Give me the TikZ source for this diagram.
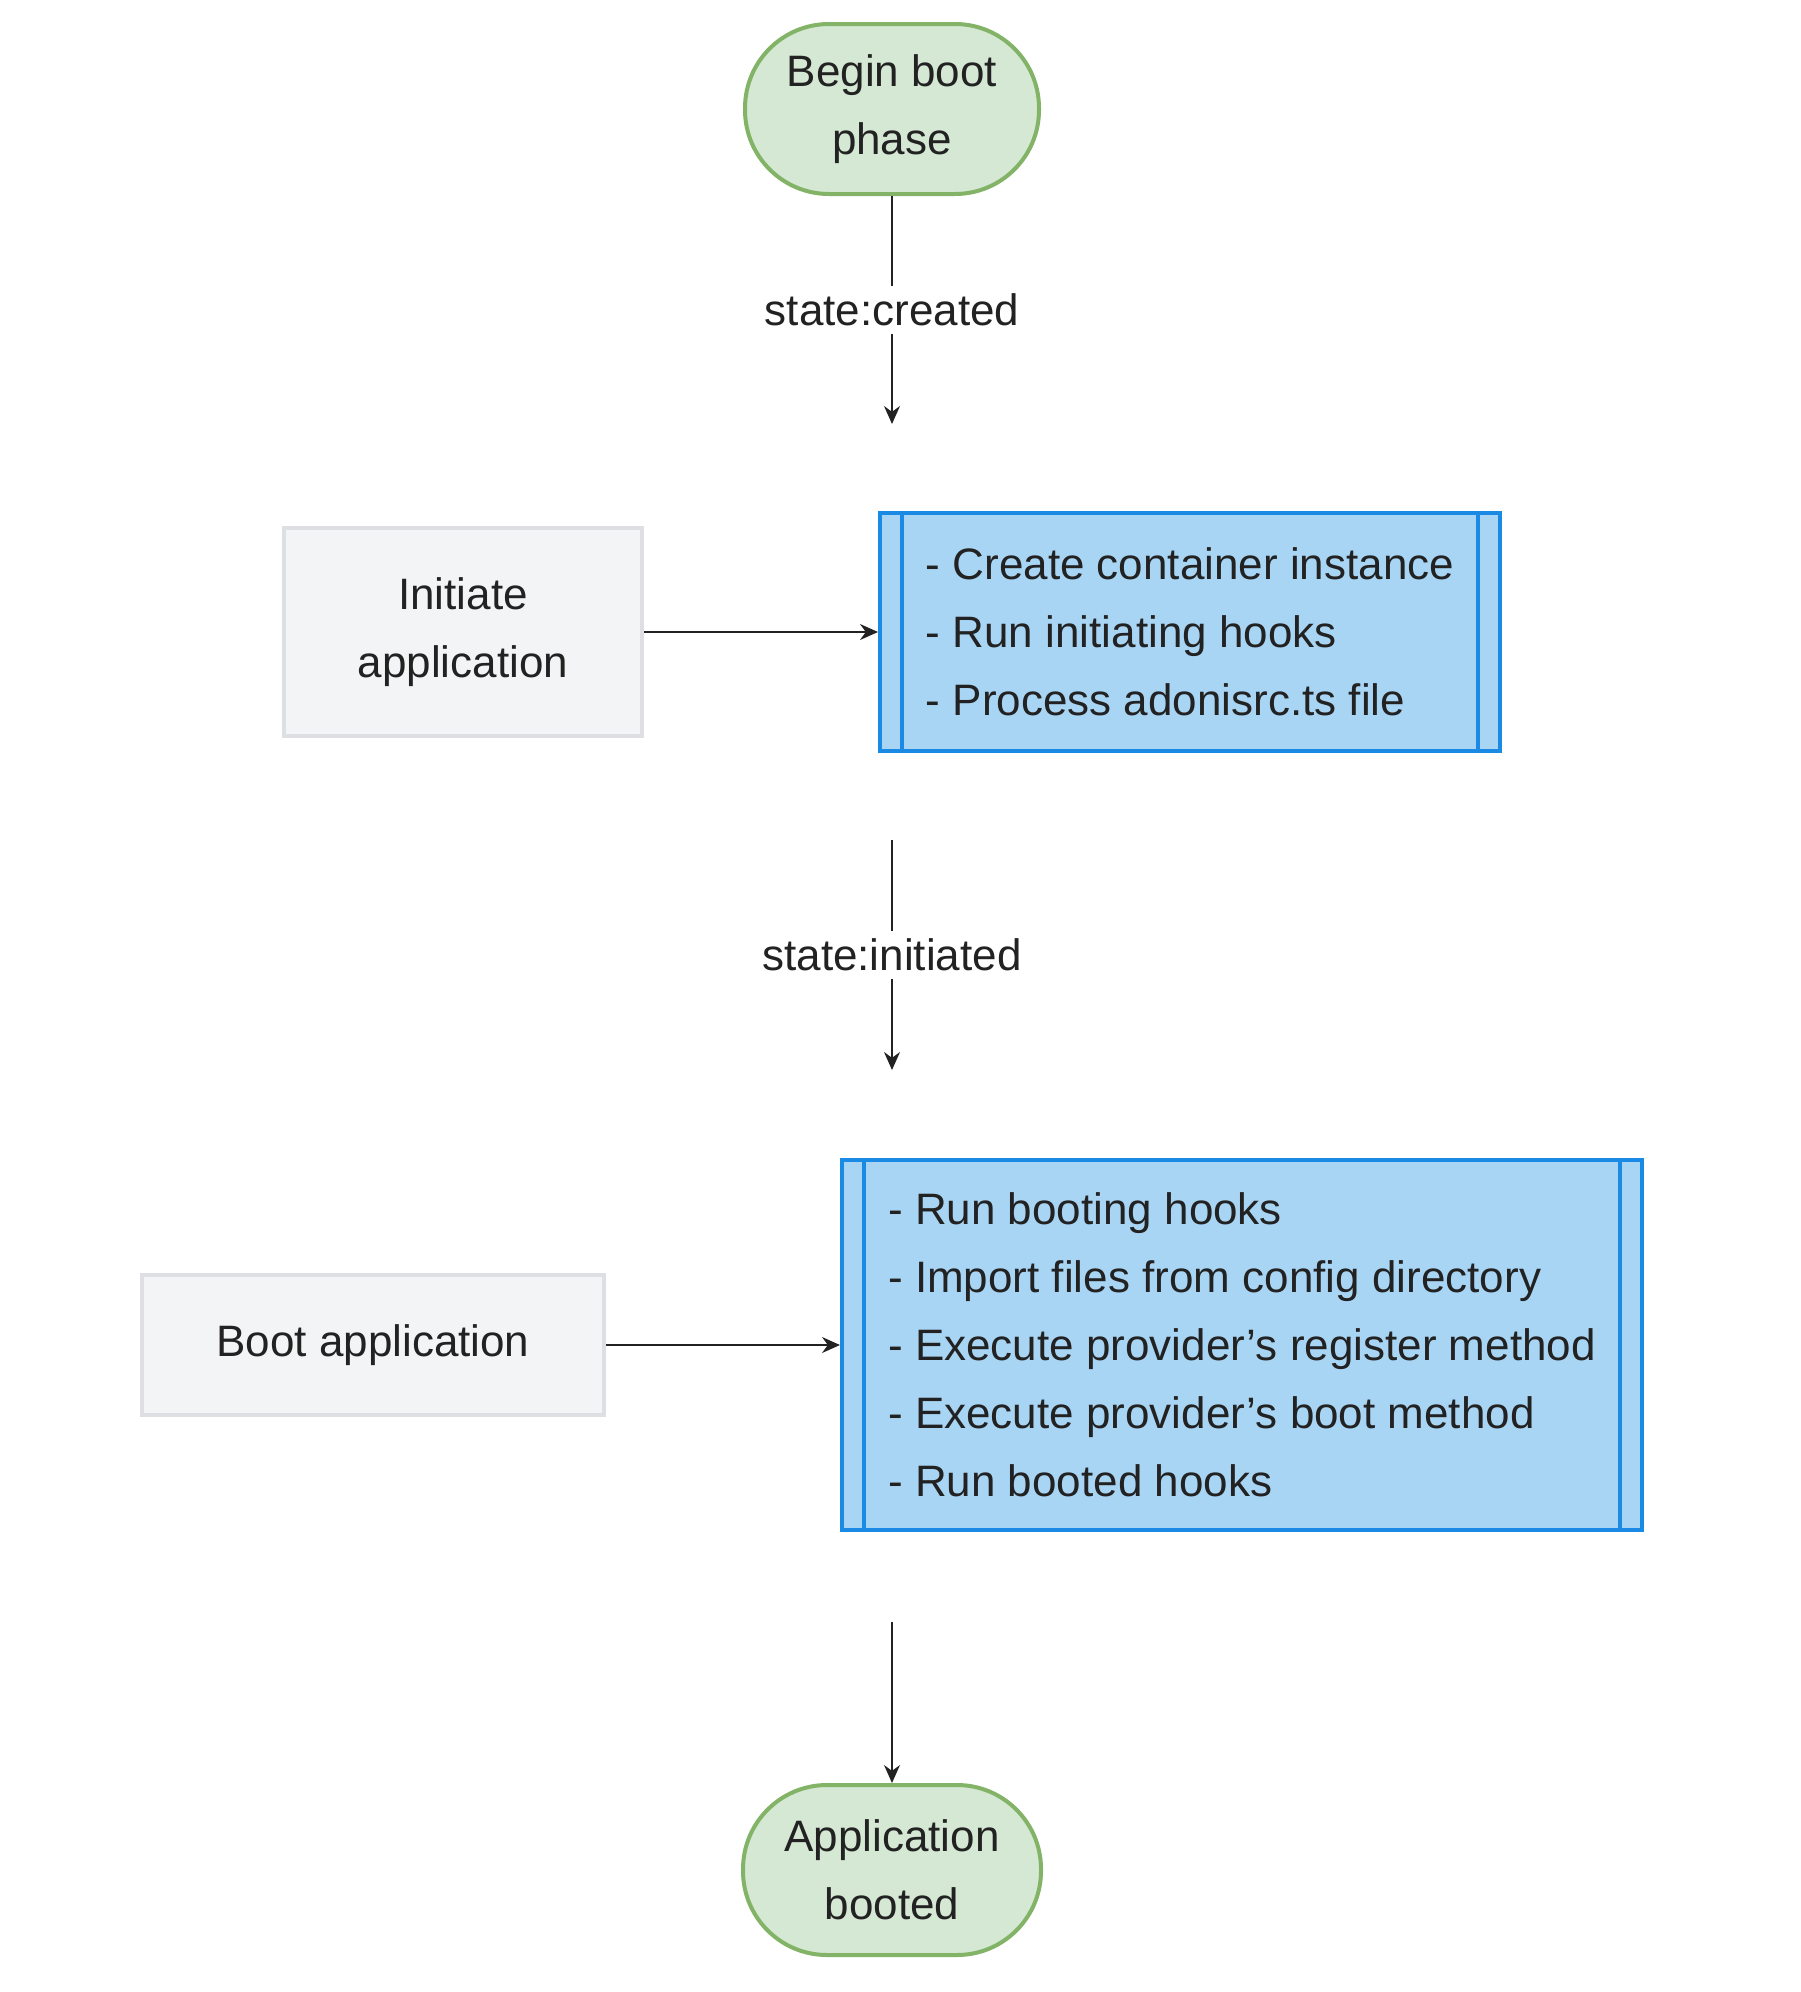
\documentclass[tikz,border=0pt]{standalone}
\usepackage{fontspec}
\setmainfont{Liberation Sans}
\usetikzlibrary{arrows.meta}
\definecolor{gfill}{HTML}{D5E8D4}
\definecolor{gline}{HTML}{82B366}
\definecolor{pfill}{HTML}{F3F4F6}
\definecolor{pline}{HTML}{DDDFE3}
\definecolor{bfill}{HTML}{A9D5F5}
\definecolor{bline}{HTML}{1A8AE5}
\definecolor{ink}{HTML}{222222}
\begin{document}
\begin{tikzpicture}[x=0.5pt,y=-0.5pt,
  every node/.style={font=\fontsize{22}{34}\selectfont, text=ink},
  term/.style={draw=gline, fill=gfill, line width=2pt, rounded corners=42pt, minimum width=147pt, minimum height=85pt, align=center},
  plain/.style={draw=pline, fill=pfill, line width=2pt, align=center},
  sub/.style={draw=bline, fill=bfill, line width=2pt, align=left, inner xsep=21pt},
  conn/.style={draw=ink, line width=0.8pt, -{Stealth[length=9pt,width=8pt]}},
  lbl/.style={fill=white, inner sep=4pt}]
\path[use as bounding box] (0,0) rectangle (1800,1992);
\node[term] (begin) at (892,109) {Begin boot\\phase};
\node[plain, minimum width=179pt, minimum height=104pt] (init) at (463,632) {Initiate\\application};
\node[sub, minimum width=310pt, minimum height=119pt] (s1) at (1190,632) {- Create container instance\\- Run initiating hooks\\- Process adonisrc.ts file};
\draw[bline, line width=2pt] ([xshift=12pt]s1.north west) -- ([xshift=12pt]s1.south west);
\draw[bline, line width=2pt] ([xshift=-12pt]s1.north east) -- ([xshift=-12pt]s1.south east);
\node[plain, minimum width=231pt, minimum height=70pt] (boot) at (373,1345) {Boot application};
\node[sub, minimum width=400pt, minimum height=185pt] (s2) at (1242,1345) {- Run booting hooks\\- Import files from config directory\\- Execute provider's register method\\- Execute provider's boot method\\- Run booted hooks};
\draw[bline, line width=2pt] ([xshift=12pt]s2.north west) -- ([xshift=12pt]s2.south west);
\draw[bline, line width=2pt] ([xshift=-12pt]s2.north east) -- ([xshift=-12pt]s2.south east);
\node[term, minimum width=149pt] (end) at (892,1870) {Application\\booted};
\coordinate (t1) at (892,424);
\coordinate (f2) at (892,840);
\coordinate (t2) at (892,1070);
\coordinate (f3) at (892,1622);
\draw[conn] (begin) -- node[lbl] {state:created} (t1);
\draw[conn] (f2) -- node[lbl] {state:initiated} (t2);
\draw[conn] (f3) -- (end);
\draw[conn] (init) -- (s1);
\draw[conn] (boot) -- (s2);
\end{tikzpicture}
\end{document}
